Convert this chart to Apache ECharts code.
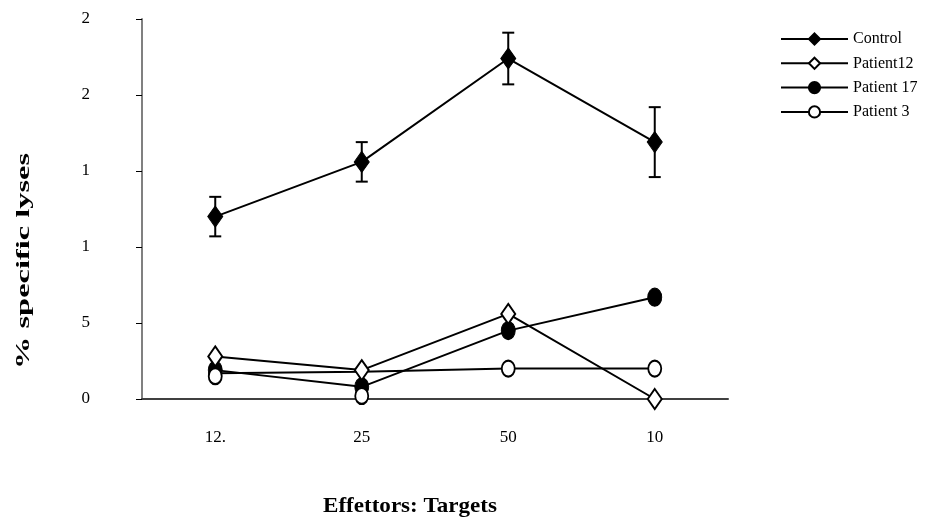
<!DOCTYPE html>
<html>
<head>
<meta charset="utf-8">
<script src="https://cdn.jsdelivr.net/npm/echarts@6/dist/echarts.min.js"></script>
<style>html,body{margin:0;padding:0;background:#fff}#c{width:946px;height:525px}</style>
</head>
<body>
<div id="c"></div>
<script>
// ---- data ----
var categories = ['12.', '25', '50', '10'];
var yTickLabels = ['0', '5', '1', '1', '2', '2'];
var controlValues = [12.0, 15.6, 22.4, 16.9];
var controlErrors = [1.3, 1.3, 1.7, 2.3];
var patient12Values = [2.8, 1.9, 5.6, 0.0];
var patient17Values = [1.9, 0.8, 4.5, 6.7];
var patient3Line = [1.7, 1.8, 2.0, 2.0];
var patient3Markers = [1.5, 0.2, 2.0, 2.0];
var yAxisTitle = '% specific lyses';
var xAxisTitle = 'Effettors: Targets';

var font = '"Liberation Serif", "Times New Roman", serif';
var chart = echarts.init(document.getElementById('c'), null, {renderer: 'canvas'});

function textWidth(txt, f) {
  var cv = document.createElement('canvas').getContext('2d');
  cv.font = f;
  return cv.measureText(txt).width;
}
var yTitleFont = 'bold 19px ' + font;
var xTitleFont = 'bold 21px ' + font;
var yTitleScale = 216 / textWidth(yAxisTitle, yTitleFont);
var xTitleScale = 174 / textWidth(xAxisTitle, xTitleFont);

var errData = controlValues.map(function (v, i) {
  return [i, v - controlErrors[i], v + controlErrors[i]];
});

var openStyle = {color: '#ffffff', borderColor: '#000000', borderWidth: 2, opacity: 1};
var fillStyle = {color: '#000000', borderColor: '#000000', borderWidth: 1, opacity: 1};
var lineStyle = {color: '#000000', width: 2};

var option = {
  animation: false,
  backgroundColor: '#ffffff',
  textStyle: {fontFamily: font},
  grid: {left: 142, right: 218, top: 19, bottom: 126, containLabel: false},
  legend: {
    orient: 'vertical',
    left: 775,
    top: 26,
    itemWidth: 67,
    itemHeight: 14,
    itemGap: 8.3,
    textStyle: {fontFamily: font, fontSize: 16, color: '#000'},
    data: ['Control', 'Patient12', 'Patient 17', 'Patient 3']
  },
  xAxis: {
    type: 'category',
    data: categories,
    boundaryGap: true,
    axisLine: {lineStyle: {color: '#404040', width: 2}},
    axisTick: {show: false},
    axisLabel: {margin: 30, fontFamily: font, fontSize: 17, color: '#000'}
  },
  yAxis: {
    type: 'value',
    min: 0,
    max: 25,
    interval: 5,
    splitLine: {show: false},
    axisLine: {show: true, lineStyle: {color: '#808080', width: 2}},
    axisTick: {show: true, length: 6, lineStyle: {color: '#000', width: 1}},
    axisLabel: {
      margin: 52, fontFamily: font, fontSize: 17, color: '#000',
      formatter: function (v) { return yTickLabels[Math.round(v / 5)]; }
    }
  },
  graphic: [
    {
      type: 'text', x: 24, y: 261, rotation: Math.PI / 2, scaleX: yTitleScale,
      style: {text: yAxisTitle, font: yTitleFont, fill: '#000', align: 'center', verticalAlign: 'middle'}
    },
    {
      type: 'text', x: 410, y: 507, scaleX: xTitleScale,
      style: {text: xAxisTitle, font: xTitleFont, fill: '#000', align: 'center', verticalAlign: 'middle'}
    }
  ],
  series: [
    {
      name: 'Patient 3', type: 'line',
      data: patient3Line.map(function (v) { return {value: v, symbol: 'none'}; }),
      symbol: 'circle', symbolSize: [13, 16],
      itemStyle: openStyle, lineStyle: lineStyle, z: 2
    },
    {
      name: 'Patient 3', type: 'scatter', data: patient3Markers,
      symbol: 'circle', symbolSize: [13, 16], itemStyle: openStyle, z: 6
    },
    {
      name: 'Patient 17', type: 'line', data: patient17Values,
      symbol: 'circle', symbolSize: [14, 18],
      itemStyle: fillStyle, lineStyle: lineStyle, z: 3
    },
    {
      name: 'Patient12', type: 'line', data: patient12Values,
      symbol: 'diamond', symbolSize: [14, 20],
      itemStyle: openStyle, lineStyle: lineStyle, z: 4
    },
    {
      name: 'Control', type: 'line', data: controlValues,
      symbol: 'diamond', symbolSize: [15, 21],
      itemStyle: fillStyle, lineStyle: lineStyle, z: 5
    },
    {
      name: 'ControlErr', type: 'custom', data: errData, z: 4,
      renderItem: function (params, api) {
        var x = api.value(0);
        var lo = api.coord([x, api.value(1)]);
        var hi = api.coord([x, api.value(2)]);
        var w = 6;
        var st = {stroke: '#000', lineWidth: 2};
        return {
          type: 'group', children: [
            {type: 'line', shape: {x1: lo[0], y1: lo[1], x2: hi[0], y2: hi[1]}, style: st},
            {type: 'line', shape: {x1: lo[0] - w, y1: lo[1], x2: lo[0] + w, y2: lo[1]}, style: st},
            {type: 'line', shape: {x1: hi[0] - w, y1: hi[1], x2: hi[0] + w, y2: hi[1]}, style: st}
          ]
        };
      }
    }
  ]
};
chart.setOption(option);
</script>
</body>
</html>
